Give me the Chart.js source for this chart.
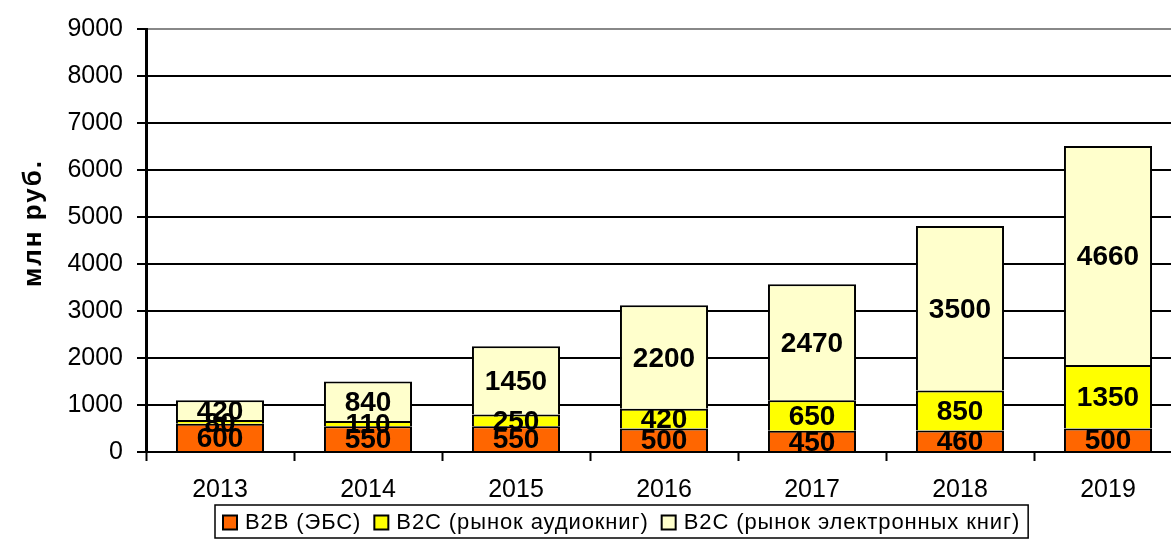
<!DOCTYPE html>
<html>
<head>
<meta charset="utf-8">
<script src="https://cdn.jsdelivr.net/npm/chart.js@4/dist/chart.umd.min.js"></script>
<style>
  html, body { margin: 0; padding: 0; overflow: hidden; background: #fff; }
  #wrap { width: 1190px; height: 542px; }
</style>
</head>
<body>
<div id="wrap"><canvas id="c" width="1190" height="542"></canvas></div>
<script>
// Years on the category axis
const years = ['2013', '2014', '2015', '2016', '2017', '2018', '2019'];
// Market segments, млн руб.
const b2bEbs = [600, 550, 550, 500, 450, 460, 500];
const b2cAudio = [80, 110, 250, 420, 650, 850, 1350];
const b2cEbooks = [420, 840, 1450, 2200, 2470, 3500, 4660];
// Value axis
const yMin = 0, yMax = 9000, yStep = 1000;
const seriesNames = ['B2B (ЭБС)', 'B2C (рынок аудиокниг)', 'B2C (рынок электронных книг)'];
const seriesColors = ['#FF6600', '#FFFF00', '#FFFFCC'];
const axisTitle = 'млн руб.';

const FONT = '"Liberation Sans", Arial, sans-serif';

// Value labels in the middle of every stacked segment
const segmentLabels = {
  id: 'segmentLabels',
  afterDatasetsDraw(chart) {
    const ctx = chart.ctx;
    ctx.save();
    ctx.font = 'bold 28px ' + FONT;
    ctx.fillStyle = '#000';
    ctx.textAlign = 'center';
    ctx.textBaseline = 'middle';
    chart.data.datasets.forEach((ds, i) => {
      const meta = chart.getDatasetMeta(i);
      meta.data.forEach((bar, j) => {
        const p = bar.getProps(['x', 'y', 'base'], true);
        ctx.fillText(String(ds.data[j]), p.x, (p.y + p.base) / 2 + 2);
      });
    });
    ctx.restore();
  }
};

// Rotated axis title and boxed legend under the axis
const decorations = {
  id: 'decorations',
  afterDraw(chart) {
    const ctx = chart.ctx;
    ctx.save();
    ctx.font = 'bold 26px ' + FONT;
    ctx.letterSpacing = '2px';
    ctx.fillStyle = '#000';
    ctx.textAlign = 'center';
    ctx.textBaseline = 'middle';
    ctx.translate(34, 223);
    ctx.rotate(-Math.PI / 2);
    ctx.fillText(axisTitle, 0, 0);
    ctx.restore();

    ctx.save();
    ctx.font = '22px ' + FONT;
    ctx.letterSpacing = '0.9px';
    const sw = 14, gapText = 8, gapItem = 13, padX = 8;
    const widths = seriesNames.map(n => ctx.measureText(n).width);
    let total = padX * 2;
    widths.forEach((w, i) => { total += sw + gapText + w + (i < widths.length - 1 ? gapItem : 0); });
    const left = 215, top = 505, h = 33;
    ctx.fillStyle = '#fff';
    ctx.fillRect(left, top, total, h);
    ctx.lineWidth = 1.5;
    ctx.strokeStyle = '#000';
    ctx.strokeRect(left, top, total, h);
    let x = left + padX;
    const midY = top + h / 2 + 1;
    seriesNames.forEach((n, i) => {
      ctx.fillStyle = seriesColors[i];
      ctx.fillRect(x, midY - sw / 2, sw, sw);
      ctx.lineWidth = 2;
      ctx.strokeStyle = '#000';
      ctx.strokeRect(x, midY - sw / 2, sw, sw);
      x += sw + gapText;
      ctx.fillStyle = '#000';
      ctx.textAlign = 'left';
      ctx.textBaseline = 'middle';
      ctx.fillText(n, x, midY);
      x += widths[i] + gapItem;
    });
    ctx.restore();
  }
};

const makeDataset = (label, data, color) => ({
  label, data,
  backgroundColor: color,
  borderColor: '#000',
  borderWidth: { top: 2, left: 2, right: 2, bottom: 0 },
  borderSkipped: false,
  barPercentage: 0.595,
  categoryPercentage: 1
});

new Chart(document.getElementById('c'), {
  type: 'bar',
  data: {
    labels: years,
    datasets: [
      makeDataset(seriesNames[0], b2bEbs, seriesColors[0]),
      makeDataset(seriesNames[1], b2cAudio, seriesColors[1]),
      makeDataset(seriesNames[2], b2cEbooks, seriesColors[2])
    ]
  },
  options: {
    responsive: false,
    animation: false,
    devicePixelRatio: 1,
    layout: { padding: { left: 0, top: 27, right: 8, bottom: 0 } },
    plugins: { legend: { display: false }, tooltip: { enabled: false } },
    scales: {
      x: {
        stacked: true,
        grid: {
          offset: true,
          drawOnChartArea: false,
          drawTicks: true,
          tickLength: 9,
          tickColor: '#000',
          tickWidth: 2
        },
        border: { display: true, color: '#000', width: 2 },
        ticks: { color: '#000', font: { family: FONT, size: 25 }, padding: 14, maxRotation: 0 },
        afterFit(scale) { scale.height = 90; }
      },
      y: {
        stacked: true,
        min: yMin, max: yMax,
        grid: {
          color: (c) => (c.tick && c.tick.value === yMax ? '#888' : '#000'),
          lineWidth: 2,
          tickLength: 9,
          tickColor: '#000',
          tickWidth: 2
        },
        border: { display: true, color: '#000', width: 3 },
        ticks: {
          stepSize: yStep,
          color: '#000',
          font: { family: FONT, size: 25 },
          padding: 14,
          callback: (v) => String(v)
        },
        afterFit(scale) { scale.width = 146; }
      }
    }
  },
  plugins: [segmentLabels, decorations]
});
</script>
</body>
</html>
